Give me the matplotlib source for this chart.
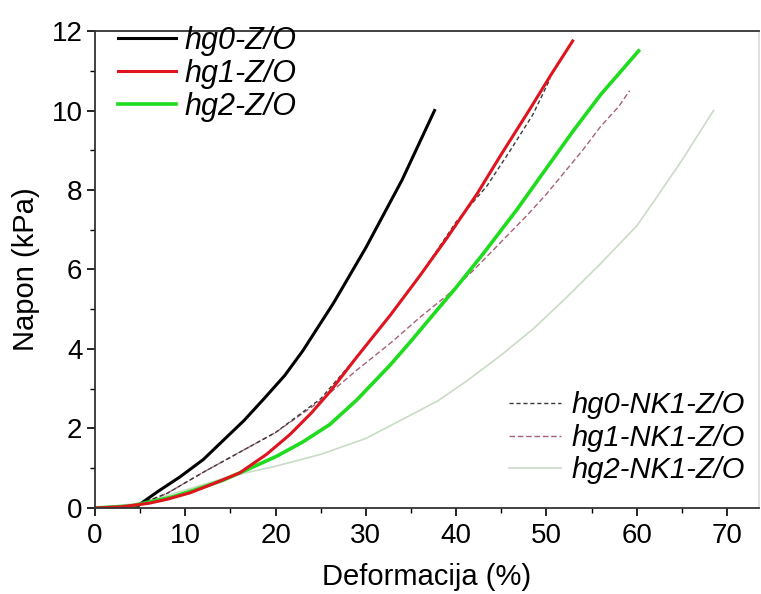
import matplotlib
matplotlib.use("Agg")
import matplotlib.pyplot as plt
from matplotlib.ticker import MultipleLocator

plt.rcParams["font.family"] = ["Liberation Sans", "DejaVu Sans"]

# --- data (strain %, stress kPa) ---
hg0_x = [4.5, 5.0, 7.0, 9.4, 12.0, 14.2, 16.5, 18.6, 21.0, 23.0, 26.4, 30.0, 34.0, 37.6]
hg0_y = [0.0, 0.1, 0.42, 0.78, 1.22, 1.7, 2.2, 2.72, 3.33, 3.95, 5.15, 6.55, 8.25, 10.0]

hg1_x = [0.0, 3.0, 6.0, 8.0, 10.5, 13.0, 16.0, 19.0, 21.6, 24.0, 26.0, 29.0, 32.7, 36.0, 39.0, 42.3, 45.0, 48.2, 50.5, 52.9]
hg1_y = [0.0, 0.03, 0.12, 0.22, 0.38, 0.6, 0.88, 1.35, 1.85, 2.4, 2.92, 3.8, 4.85, 5.85, 6.8, 7.9, 8.9, 10.05, 10.9, 11.75]

hg2_x = [0.0, 4.0, 8.6, 11.0, 14.2, 17.0, 20.1, 23.0, 26.0, 29.0, 32.7, 35.0, 37.4, 40.0, 43.0, 46.7, 50.0, 53.0, 56.0, 60.2]
hg2_y = [0.0, 0.05, 0.28, 0.45, 0.7, 0.98, 1.3, 1.66, 2.1, 2.72, 3.6, 4.2, 4.85, 5.55, 6.4, 7.5, 8.55, 9.5, 10.4, 11.5]

nk0_x = [5.0, 8.0, 12.0, 16.0, 20.0, 25.0, 29.0, 33.0, 36.0, 40.0, 43.4, 46.0, 48.5, 50.4]
nk0_y = [0.1, 0.37, 0.9, 1.4, 1.9, 2.75, 3.8, 4.95, 5.85, 7.2, 8.1, 9.0, 9.9, 10.8]

nk1_x = [0.0, 5.0, 8.0, 12.0, 16.0, 20.0, 25.0, 29.0, 33.0, 36.0, 39.0, 42.0, 45.0, 48.0, 50.0, 52.0, 54.0, 56.0, 58.0, 59.2]
nk1_y = [0.0, 0.1, 0.37, 0.9, 1.4, 1.9, 2.7, 3.47, 4.2, 4.8, 5.35, 6.0, 6.7, 7.4, 7.9, 8.45, 9.0, 9.6, 10.1, 10.5]

nk2_x = [0.0, 5.0, 10.0, 15.0, 20.0, 25.0, 30.0, 33.8, 38.0, 41.2, 45.0, 48.5, 52.0, 56.0, 60.0, 62.0, 65.0, 68.5]
nk2_y = [0.0, 0.12, 0.45, 0.8, 1.05, 1.35, 1.75, 2.2, 2.7, 3.2, 3.85, 4.5, 5.25, 6.15, 7.1, 7.75, 8.75, 10.0]

fig = plt.figure(figsize=(7.61, 5.94), dpi=100)
ax = fig.add_axes([0.1248, 0.1448, 0.8722, 0.803])

l3, = ax.plot(nk2_x, nk2_y, color="#c9dcc6", lw=1.2, label="hg2-NK1-Z/O")
l2, = ax.plot(nk1_x, nk1_y, color="#a8607a", lw=1.0, ls=(0, (4, 2)), label="hg1-NK1-Z/O")
l1, = ax.plot(nk0_x, nk0_y, color="#3a3a3a", lw=1.0, ls=(0, (3, 2)), label="hg0-NK1-Z/O")
h0, = ax.plot(hg0_x, hg0_y, color="black", lw=2.2, label="hg0-Z/O")
h2, = ax.plot(hg2_x, hg2_y, color="#1fdc1f", lw=2.6, label="hg2-Z/O")
h1, = ax.plot(hg1_x, hg1_y, color="#e0141e", lw=2.2, label="hg1-Z/O")

ax.set_xlim(0, 73.5)
ax.set_ylim(0, 12)
ax.xaxis.set_major_locator(MultipleLocator(10))
ax.xaxis.set_minor_locator(MultipleLocator(5))
ax.yaxis.set_major_locator(MultipleLocator(2))
ax.yaxis.set_minor_locator(MultipleLocator(1))
ax.tick_params(which="major", direction="out", length=6, width=1.2, labelsize=20, pad=3)
ax.tick_params(axis="x", which="major", pad=5)
ax.tick_params(which="minor", direction="out", length=3.5, width=1.0)
for s in ax.spines.values():
    s.set_linewidth(1.3)
    s.set_color("#333333")
ax.spines["right"].set_color("#dddddd")

ax.set_xlabel("Deformacija (%)", fontsize=21, labelpad=10)
ax.set_ylabel("Napon (kPa)", fontsize=21, labelpad=8)

leg1 = ax.legend([h0, h1, h2], ["hg0-Z/O", "hg1-Z/O", "hg2-Z/O"], loc="upper left",
                 bbox_to_anchor=(0.016, 1.036), frameon=False, handlelength=1.9,
                 handletextpad=0.28, labelspacing=0.1, borderaxespad=0.0,
                 prop={"size": 22, "style": "italic"})
ax.add_artist(leg1)
ax.legend([l1, l2, l3], ["hg0-NK1-Z/O", "hg1-NK1-Z/O", "hg2-NK1-Z/O"], loc="lower right",
          bbox_to_anchor=(0.997, 0.025), frameon=False, handlelength=1.8,
          handletextpad=0.35, labelspacing=0.16, borderaxespad=0.0,
          prop={"size": 21, "style": "italic"})

fig.savefig("out.png", dpi=100)
